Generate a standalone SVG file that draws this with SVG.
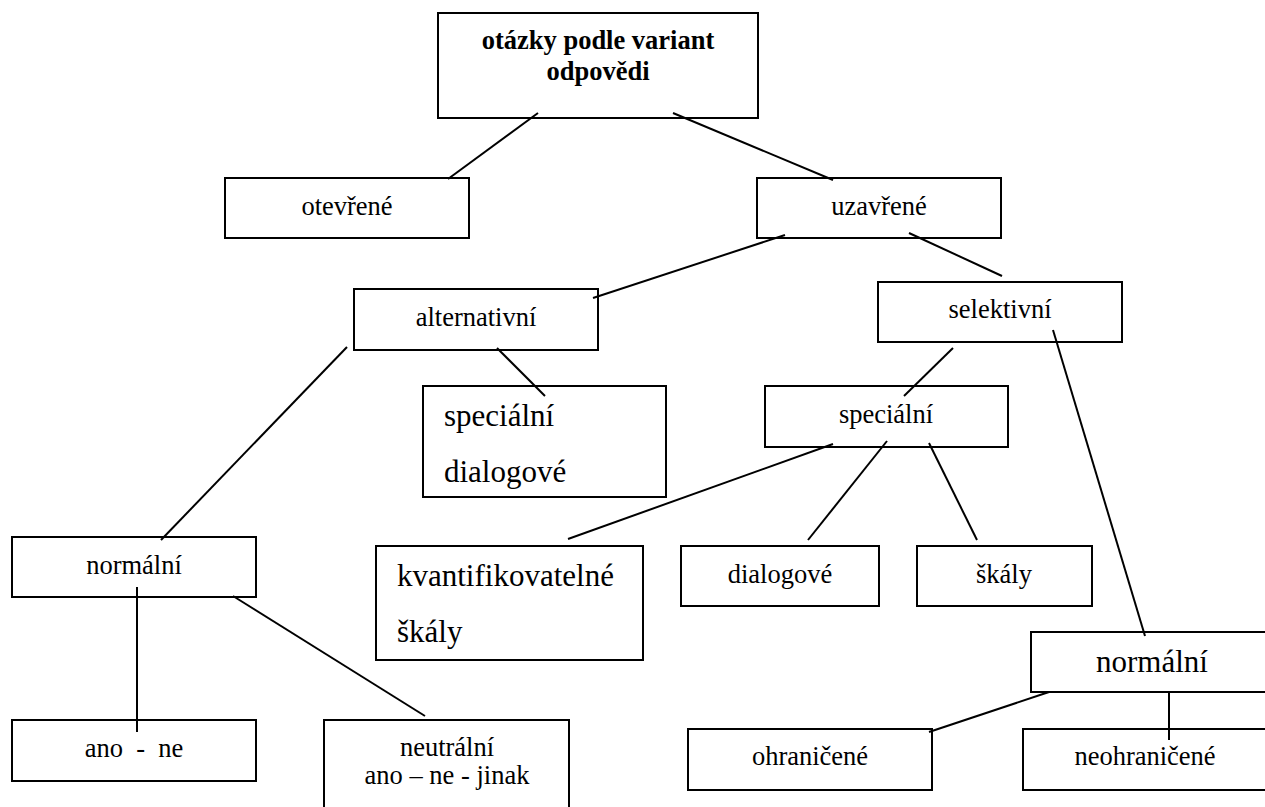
<svg xmlns="http://www.w3.org/2000/svg" width="1265" height="807" viewBox="0 0 1265 807">
  <style>
    .box { fill: #ffffff; stroke: #000000; stroke-width: 2; }
    text { font-family: 'Liberation Serif', 'Times New Roman', serif; fill: #000000; }
    .t { font-size: 26.5px; text-anchor: middle; }
    .big { font-size: 31px; }
    .bold { font-weight: bold; }
    .edge { stroke: #000000; stroke-width: 2; fill: none; }
  </style>
  <rect width="1265" height="807" fill="#ffffff"/>

  <!-- nodes -->
  <g id="nodes">
  <g id="root">
    <rect class="box" x="438" y="13" width="320" height="105"/>
    <text class="t bold" x="598" y="49">otázky podle variant</text>
    <text class="t bold" x="598" y="80">odpovědi</text>
  </g>
  <g id="otevrene">
    <rect class="box" x="225" y="178" width="244" height="60"/>
    <text class="t" x="347" y="215">otevřené</text>
  </g>
  <g id="uzavrene">
    <rect class="box" x="757" y="178" width="244" height="60"/>
    <text class="t" x="879" y="215">uzavřené</text>
  </g>
  <g id="alternativni">
    <rect class="box" x="354" y="289" width="244" height="61"/>
    <text class="t" x="476" y="326">alternativní</text>
  </g>
  <g id="selektivni">
    <rect class="box" x="878" y="282" width="244" height="60"/>
    <text class="t" x="1000" y="318">selektivní</text>
  </g>
  <g id="specialni-dialogove">
    <rect class="box" x="423" y="386" width="243" height="111"/>
    <text class="big" x="444" y="426">speciální</text>
    <text class="big" x="444" y="482">dialogové</text>
  </g>
  <g id="specialni">
    <rect class="box" x="765" y="386" width="243" height="61"/>
    <text class="t" x="886" y="423">speciální</text>
  </g>
  <g id="normalni-left">
    <rect class="box" x="12" y="537" width="244" height="60"/>
    <text class="t" x="134" y="574">normální</text>
  </g>
  <g id="kvantifikovatelne">
    <rect class="box" x="376" y="546" width="267" height="114"/>
    <text class="big" x="397" y="586">kvantifikovatelné</text>
    <text class="big" x="397" y="642">škály</text>
  </g>
  <g id="dialogove">
    <rect class="box" x="681" y="546" width="198" height="60"/>
    <text class="t" x="780" y="583">dialogové</text>
  </g>
  <g id="skaly">
    <rect class="box" x="917" y="546" width="175" height="60"/>
    <text class="t" x="1004" y="583">škály</text>
  </g>
  <g id="normalni-right">
    <rect class="box" x="1031" y="632" width="242" height="60"/>
    <text class="big" x="1152" y="672" text-anchor="middle">normální</text>
  </g>
  <g id="ano-ne">
    <rect class="box" x="12" y="720" width="244" height="61"/>
    <text class="t" x="134" y="757" xml:space="preserve">ano  -  ne</text>
  </g>
  <g id="neutralni">
    <rect class="box" x="324" y="720" width="245" height="100"/>
    <text class="t" x="447" y="756">neutrální</text>
    <text class="t" x="447" y="784">ano – ne - jinak</text>
  </g>
  <g id="ohranicene">
    <rect class="box" x="688" y="729" width="244" height="61"/>
    <text class="t" x="810" y="765">ohraničené</text>
  </g>
  <g id="neohranicene">
    <rect class="box" x="1023" y="729" width="244" height="61"/>
    <text class="t" x="1145" y="765">neohraničené</text>
  </g>
  </g>

  <!-- connectors -->
  <g id="connectors">
    <line class="edge" x1="538" y1="113" x2="448" y2="179"/>
    <line class="edge" x1="673" y1="113" x2="833" y2="180"/>
    <line class="edge" x1="785" y1="235" x2="593" y2="298"/>
    <line class="edge" x1="909" y1="233" x2="1002" y2="276"/>
    <line class="edge" x1="347" y1="347" x2="161" y2="540"/>
    <line class="edge" x1="497" y1="348" x2="545" y2="396"/>
    <line class="edge" x1="953" y1="348" x2="904" y2="396"/>
    <line class="edge" x1="1053" y1="330" x2="1145" y2="636"/>
    <line class="edge" x1="137" y1="587" x2="137" y2="732"/>
    <line class="edge" x1="233" y1="596" x2="425" y2="716"/>
    <line class="edge" x1="833" y1="444" x2="568" y2="539"/>
    <line class="edge" x1="887" y1="441" x2="808" y2="540"/>
    <line class="edge" x1="929" y1="443" x2="977" y2="540"/>
    <line class="edge" x1="1049" y1="692" x2="929" y2="732"/>
    <line class="edge" x1="1169" y1="692" x2="1169" y2="740"/>
  </g>
</svg>
